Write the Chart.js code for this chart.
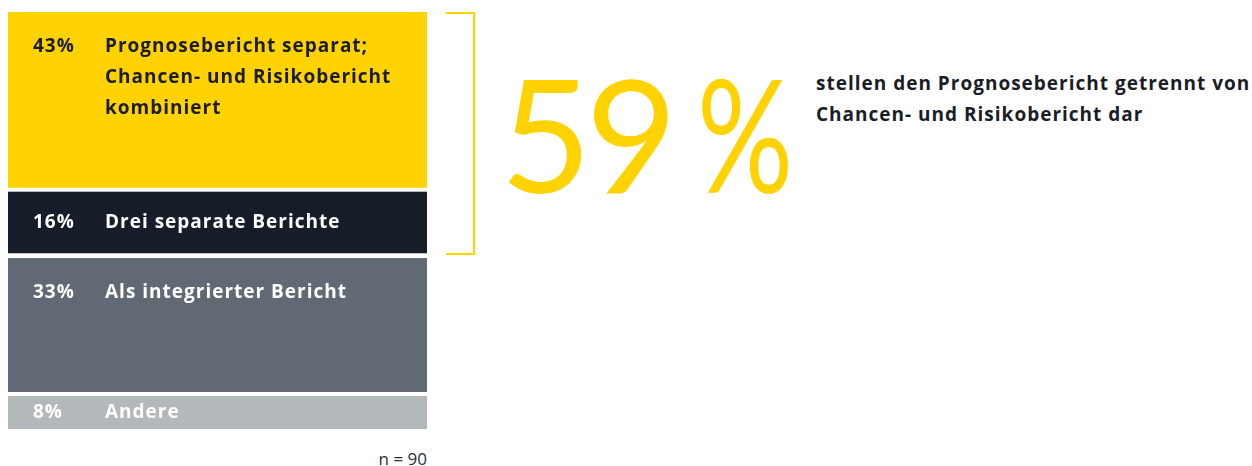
<!DOCTYPE html>
<html>
<head>
<meta charset="utf-8">
<script src="https://cdn.jsdelivr.net/npm/chart.js@4.4.0/dist/chart.umd.min.js"></script>
<style>
  html, body { margin: 0; padding: 0; background: #fff; }
  body { width: 1252px; height: 466px; position: relative; overflow: hidden; font-family: "Open Sans", sans-serif; }
  #wrap { position: absolute; left: 8px; top: 12px; width: 419px; height: 417px; }
  #bracket { position: absolute; left: 446px; top: 12px; width: 27px; height: 239px;
             border: 2px solid #ffd200; border-left: none; }
  #big { position: absolute; left: 500px; top: 32px; font-family: "Lato", sans-serif; font-weight: 400;
         font-size: 158px; line-height: 200px; color: #ffd200; white-space: nowrap; letter-spacing: -6px; }
  #big span { display: inline-block; margin-left: 26px; transform: scaleX(0.76); transform-origin: left center; }
  #note { position: absolute; left: 816px; top: 68px; font-weight: 700; font-size: 19px;
          line-height: 31px; color: #1a1d27; white-space: nowrap; letter-spacing: 1px; }
  #n { position: absolute; right: 825px; top: 447px; font-size: 17px; color: #2e2e38; white-space: nowrap; }
</style>
</head>
<body>
<div id="wrap"><canvas id="mainChart"></canvas></div>
<div id="bracket"></div>
<div id="big">59<span>%</span></div>
<div id="note">stellen den Prognosebericht getrennt von<br>Chancen- und Risikobericht dar</div>
<div id="n">n = 90</div>
<script>
// Daten
const kategorien = [
    ['Prognosebericht separat;', 'Chancen- und Risikobericht', 'kombiniert'],
    ['Drei separate Berichte'],
    ['Als integrierter Bericht'],
    ['Andere']
];
const anteile = [43, 16, 33, 8];
const farben = ['#ffd200', '#161c28', '#616a74', '#b3b8ba'];
const textFarben = ['#1a1d27', '#ffffff', '#ffffff', '#ffffff'];
const luecken = [4, 5, 4, 0];

// Beschriftungen in den Balken
const labelPlugin = {
    id: 'segLabels',
    afterDatasetsDraw(chart) {
        const ctx = chart.ctx;
        ctx.save();
        ctx.font = '700 19px "Open Sans", sans-serif';
        ctx.letterSpacing = '1px';
        ctx.textBaseline = 'middle';
        chart.data.datasets.forEach((ds, i) => {
            const bar = chart.getDatasetMeta(i).data[0];
            const top = Math.min(bar.y, bar.base);
            const h = Math.abs(bar.base - bar.y);
            const left = bar.x - bar.width / 2;
            const y0 = top + Math.min(35, (h - luecken[i]) / 2);
            ctx.fillStyle = textFarben[i];
            ctx.fillText(anteile[i] + '%', left + 25, y0);
            kategorien[i].forEach((line, j) => {
                ctx.fillText(line, left + 97, y0 + j * 31);
            });
        });
        ctx.restore();
    }
};

const ctx = document.getElementById('mainChart').getContext('2d');
new Chart(ctx, {
    type: 'bar',
    data: {
        labels: [''],
        datasets: anteile.map((v, i) => ({
            label: kategorien[i].join(' '),
            data: [v],
            backgroundColor: farben[i],
            borderColor: '#ffffff',
            borderWidth: { top: 0, left: 0, right: 0, bottom: luecken[i] },
            borderSkipped: false,
            barPercentage: 1,
            categoryPercentage: 1
        }))
    },
    options: {
        responsive: true,
        maintainAspectRatio: false,
        animation: false,
        layout: { padding: 0 },
        scales: {
            x: { stacked: true, display: false },
            y: { stacked: true, display: false, reverse: true, min: 0, max: 100 }
        },
        plugins: { legend: { display: false }, tooltip: { enabled: false } }
    },
    plugins: [labelPlugin]
});
</script>
</body>
</html>
